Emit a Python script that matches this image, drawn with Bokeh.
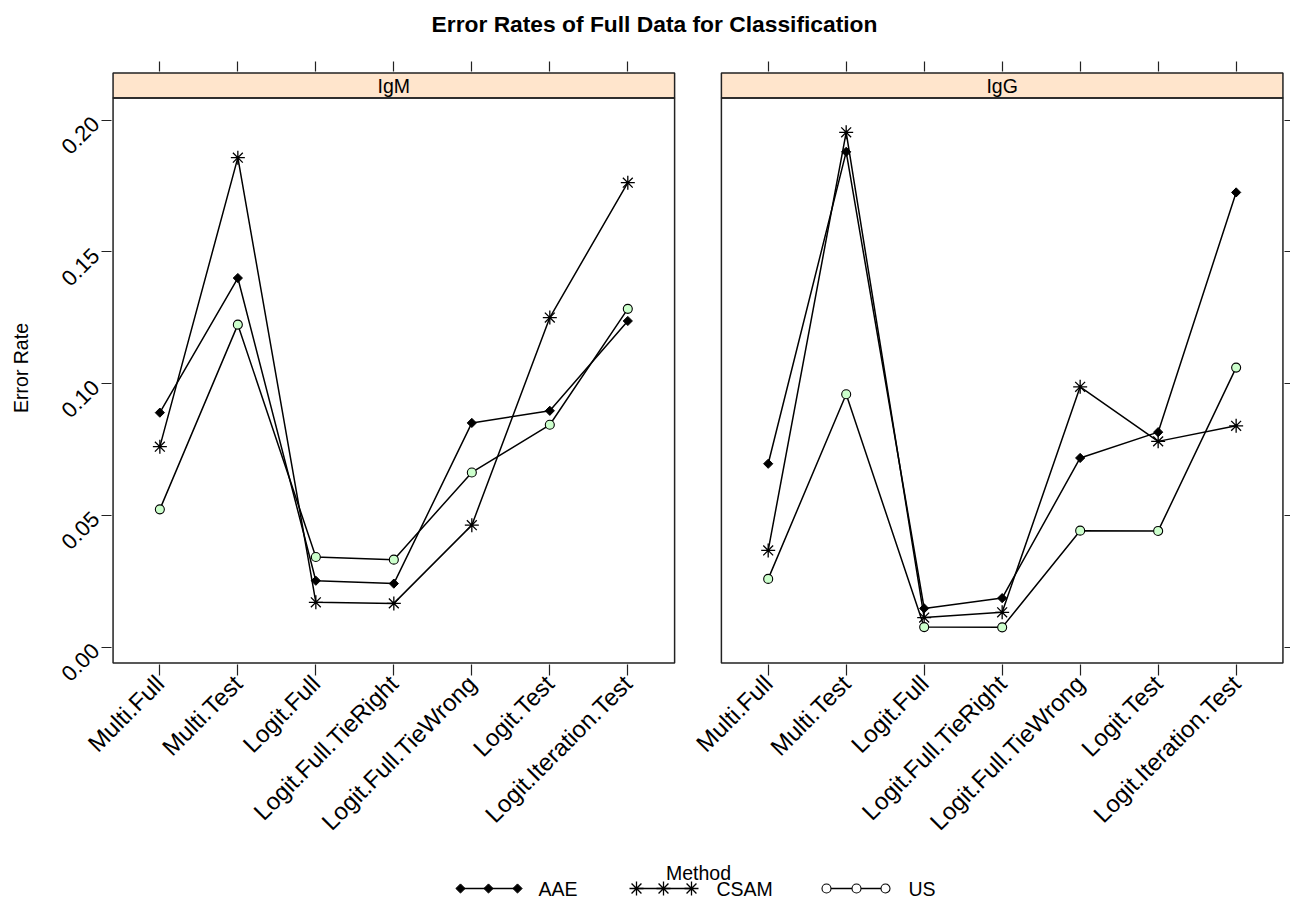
import math
from bokeh.plotting import figure
from bokeh.models import Range1d, FixedTicker, LinearAxis, PrintfTickFormatter
from bokeh.layouts import column
from bokeh.embed import file_html
from bokeh.resources import INLINE
from bokeh.core.properties import value

# ---------------- data ----------------
categories = ["Multi.Full", "Multi.Test", "Logit.Full", "Logit.Full.TieRight",
              "Logit.Full.TieWrong", "Logit.Test", "Logit.Iteration.Test"]
panels = ["IgM", "IgG"]
methods = ["AAE", "CSAM", "US"]

igm_aae = [0.0890, 0.1401, 0.0252, 0.0241, 0.0851, 0.0897, 0.1238]
igm_csam = [0.0761, 0.1858, 0.0170, 0.0166, 0.0463, 0.1251, 0.1763]
igm_us = [0.0523, 0.1224, 0.0342, 0.0332, 0.0663, 0.0844, 0.1284]

igg_aae = [0.0696, 0.1880, 0.0147, 0.0186, 0.0718, 0.0816, 0.1726]
igg_csam = [0.0367, 0.1954, 0.0112, 0.0132, 0.0988, 0.0781, 0.0840]
igg_us = [0.0259, 0.0960, 0.0076, 0.0075, 0.0442, 0.0441, 0.1061]

y_ticks = [0.00, 0.05, 0.10, 0.15, 0.20]

panel_data = {
    "IgM": {"AAE": igm_aae, "CSAM": igm_csam, "US": igm_us},
    "IgG": {"AAE": igg_aae, "CSAM": igg_csam, "US": igg_us},
}

# ---------------- layout constants ----------------
FONT = "Liberation Sans"
PAD = 0.6
N = len(categories)
PANEL_W = (N - 1) + 2 * PAD
GAP = 0.6
OFFSET = PANEL_W + GAP
Y_LO, Y_HI, STRIP_TOP = -0.006, 0.2084, 0.2179
XE, YE = 0.02, 0.0006

W, HT, H1, H2 = 1290, 40, 815, 46
BL, BR, BT, BB = 111, 6, 31, 191

def bare(fig):
    fig.outline_line_color = None
    fig.xgrid.visible = False
    fig.ygrid.visible = False
    fig.background_fill_color = "white"
    fig.border_fill_color = "white"

# ---------------- title figure ----------------
tf = figure(width=W, height=HT, output_backend="svg", toolbar_location=None,
            x_range=Range1d(BL, W - BR), y_range=Range1d(0, HT),
            min_border_left=BL, min_border_right=BR, min_border_top=0, min_border_bottom=0,
            x_axis_type=None, y_axis_type=None)
bare(tf)
tf.text(x=[654], y=[HT - 23], text=["Error Rates of Full Data for Classification"],
        text_align="center", text_baseline="alphabetic",
        text_font=value(FONT), text_font_size="22.8px", text_font_style="bold",
        text_color="black")

# ---------------- main figure ----------------
p = figure(width=W, height=H1, output_backend="svg", toolbar_location=None,
           x_range=Range1d(1 - PAD - XE, 1 - PAD + OFFSET + PANEL_W + XE),
           y_range=Range1d(Y_LO - YE, STRIP_TOP + YE),
           min_border_left=BL, min_border_right=BR, min_border_top=BT,
           min_border_bottom=BB, x_axis_type=None, y_axis_type=None)
bare(p)

xpos = {}
for k, name in enumerate(panels):
    xpos[name] = [i + 1 + k * OFFSET for i in range(N)]

all_x = xpos["IgM"] + xpos["IgG"]
labels = {}
for name in panels:
    for xv, c in zip(xpos[name], categories):
        labels[xv] = c

AX_COL = "#222222"

def style_axis(ax, tick_out=10):
    ax.axis_line_color = None
    ax.major_tick_line_color = AX_COL
    ax.major_tick_line_width = 1.2
    ax.major_tick_out = tick_out
    ax.major_tick_in = 0
    ax.minor_tick_line_color = None

def blank_labels(ax, ticks):
    ax.major_label_overrides = {t: "" for t in ticks}
    ax.major_label_text_color = None
    ax.major_label_standoff = 0

# bottom axis
xb = LinearAxis(ticker=FixedTicker(ticks=all_x), major_label_overrides=labels)
style_axis(xb, 11)
xb.major_label_orientation = math.pi / 4
xb.major_label_text_font = FONT
xb.major_label_text_font_size = "24px"
xb.major_label_text_color = "black"
xb.major_label_standoff = 4
p.add_layout(xb, "below")

# top axis (ticks only)
xt = LinearAxis(ticker=FixedTicker(ticks=all_x))
style_axis(xt, 10)
blank_labels(xt, all_x)
p.add_layout(xt, "above")

# left axis
yl = LinearAxis(ticker=FixedTicker(ticks=y_ticks), formatter=PrintfTickFormatter(format="%.2f"))
style_axis(yl, 10)
yl.major_label_orientation = math.pi / 4
yl.major_label_text_font = FONT
yl.major_label_text_font_size = "22px"
yl.major_label_text_color = "black"
yl.major_label_standoff = 6
yl.axis_label = "Error Rate"
yl.axis_label_text_font = FONT
yl.axis_label_text_font_size = "19.5px"
yl.axis_label_text_font_style = "normal"
yl.axis_label_text_color = "black"
yl.axis_label_standoff = 20
p.add_layout(yl, "left")

# right axis (ticks only)
yr = LinearAxis(ticker=FixedTicker(ticks=y_ticks))
style_axis(yr, 6)
blank_labels(yr, y_ticks)
p.add_layout(yr, "right")

# panels, strips
lefts = [xpos[n][0] - PAD for n in panels]
rights = [xpos[n][-1] + PAD for n in panels]
centers = [(a + b) / 2 for a, b in zip(lefts, rights)]
p.quad(left=lefts, right=rights, bottom=Y_HI, top=STRIP_TOP,
       fill_color="#FFE5CC", line_color=AX_COL, line_width=1.5)
p.quad(left=lefts, right=rights, bottom=Y_LO, top=Y_HI,
       fill_color=None, line_color=AX_COL, line_width=1.5)
p.text(x=centers, y=[(Y_HI + STRIP_TOP) / 2] * 2, text=panels,
       text_align="center", text_baseline="middle",
       text_font=value(FONT), text_font_size="19.5px", text_color="black")

# data
for name in panels:
    xs = xpos[name]
    d = panel_data[name]
    for m in methods:
        p.line(xs, d[m], line_color="black", line_width=1.5)
    p.scatter(xs, d["AAE"], marker="square", angle=math.pi / 4, size=6.5, color="black")
    p.scatter(xs, d["CSAM"], marker="asterisk", size=14, line_color="black", line_width=1.3)
    p.scatter(xs, d["US"], marker="circle", size=9, fill_color="#CCFFCC",
              line_color="black", line_width=1.1)

# ---------------- legend figure ----------------
lg = figure(width=W, height=H2, output_backend="svg", toolbar_location=None,
            x_range=Range1d(BL, W - BR), y_range=Range1d(0, H2),
            min_border_left=BL, min_border_right=BR, min_border_top=0, min_border_bottom=0,
            x_axis_type=None, y_axis_type=None)
bare(lg)

key_x = {"AAE": [460, 488, 517], "CSAM": [636, 663, 691], "US": [826, 856, 885]}
lab_x = {"AAE": 538, "CSAM": 716, "US": 908}
ky = H2 - 33
for m in methods:
    xs = key_x[m]
    lg.line([xs[0], xs[-1]], [ky, ky], line_color="black", line_width=1.5)
lg.scatter(key_x["AAE"], [ky] * 3, marker="square", angle=math.pi / 4, size=6.5, color="black")
lg.scatter(key_x["CSAM"], [ky] * 3, marker="asterisk", size=14, line_color="black", line_width=1.3)
lg.scatter(key_x["US"], [ky] * 3, marker="circle", size=9, fill_color="white",
           line_color="black", line_width=1.1)
lg.text(x=[lab_x[m] for m in methods], y=[ky] * 3, text=methods,
        text_align="left", text_baseline="middle",
        text_font=value(FONT), text_font_size="19.5px", text_color="black")
lg.text(x=[698], y=[H2 - 17], text=["Method"], text_align="center", text_baseline="middle",
        text_font=value(FONT), text_font_size="19.5px", text_color="black")

layout = column(tf, p, lg, spacing=0)
open("out.html", "w").write(file_html(layout, INLINE))
